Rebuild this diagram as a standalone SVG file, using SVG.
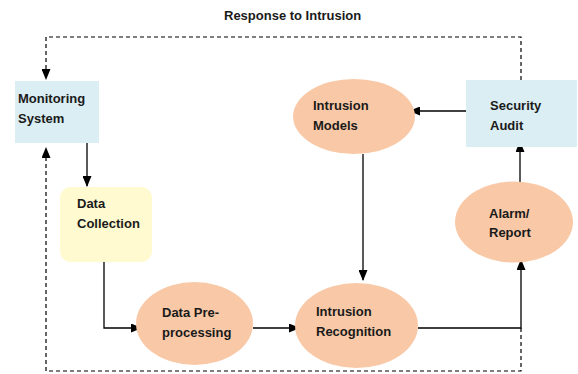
<svg xmlns="http://www.w3.org/2000/svg" width="578" height="374" viewBox="0 0 578 374">
<defs>
<marker id="ah" markerUnits="userSpaceOnUse" markerWidth="11" markerHeight="9" refX="10" refY="4.5" orient="auto">
<path d="M0,0 L11,4.5 L0,9 z" fill="#000"/>
</marker>
<style>
text{font-family:"Liberation Sans",Arial,sans-serif;font-weight:bold;font-size:13px;fill:#1a1a1a}
.box{fill:#daeef3}
.ell{fill:#f9c9a7}
.yel{fill:#fffacf}
.c{fill:none;stroke:#000;stroke-width:1.3}
.d{fill:none;stroke:#000;stroke-width:1.2;stroke-dasharray:4 3}
</style>
</defs>
<rect width="578" height="374" fill="#fff"/>
<text x="224" y="20">Response to Intrusion</text>
<g id="connectors">
<path class="d" d="M521,80 V37 H46 V79" marker-end="url(#ah)"/>
<path class="d" d="M521,328 V371 H46 V148" marker-end="url(#ah)"/>
<path class="c" d="M87,141 V186" marker-end="url(#ah)"/>
<path class="c" d="M104,258 V328 H141" marker-end="url(#ah)"/>
<path class="c" d="M253,328 H299" marker-end="url(#ah)"/>
<path class="c" d="M418,328 H521 V260" marker-end="url(#ah)"/>
<path class="c" d="M520,182 V142" marker-end="url(#ah)"/>
<path class="c" d="M466,111 H410" marker-end="url(#ah)"/>
<path class="c" d="M363,154 V280" marker-end="url(#ah)"/>
</g>
<g id="monitoring">
<rect class="box" x="15" y="81" width="84" height="62"/>
<text x="18" y="103">Monitoring</text>
<text x="18" y="123">System</text>
</g>
<g id="collection">
<rect class="yel" x="60" y="187" width="92" height="75" rx="11"/>
<text x="77" y="208">Data</text>
<text x="77" y="228">Collection</text>
</g>
<g id="preprocessing">
<ellipse class="ell" cx="194.5" cy="323.5" rx="58.5" ry="41.5"/>
<text x="162" y="317">Data Pre-</text>
<text x="162" y="337">processing</text>
</g>
<g id="recognition">
<ellipse class="ell" cx="356.5" cy="325.5" rx="61.5" ry="42.5"/>
<text x="316" y="316">Intrusion</text>
<text x="316" y="336">Recognition</text>
</g>
<g id="alarm">
<ellipse class="ell" cx="514" cy="222" rx="59" ry="40.5"/>
<text x="489" y="218">Alarm/</text>
<text x="489" y="237">Report</text>
</g>
<g id="audit">
<rect class="box" x="466" y="80" width="111" height="67"/>
<text x="490" y="110">Security</text>
<text x="490" y="130">Audit</text>
</g>
<g id="models">
<ellipse class="ell" cx="354" cy="116.5" rx="61" ry="37.5"/>
<text x="313" y="110">Intrusion</text>
<text x="313" y="130">Models</text>
</g>
</svg>
